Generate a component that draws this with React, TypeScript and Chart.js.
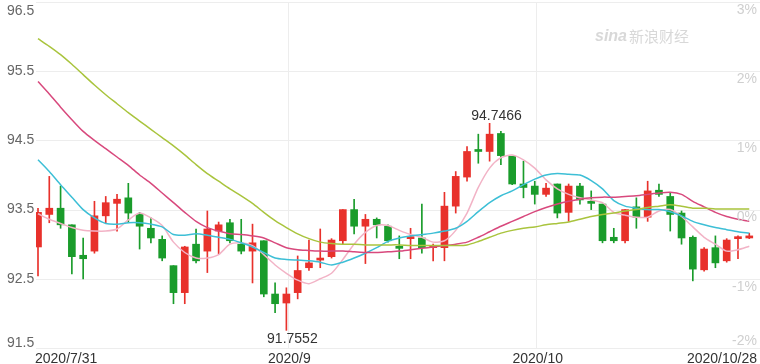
import React, { useEffect, useRef } from 'react';
import { Chart, registerables } from 'chart.js';

Chart.register(...registerables);

// Trading days 2020/7/31 .. 2020/10/28
const dates = [
  '2020/7/31',
  '2020/8/3', '2020/8/4', '2020/8/5', '2020/8/6', '2020/8/7', '2020/8/10', '2020/8/11', '2020/8/12', '2020/8/13', '2020/8/14',
  '2020/8/17', '2020/8/18', '2020/8/19', '2020/8/20', '2020/8/21', '2020/8/24', '2020/8/25', '2020/8/26', '2020/8/27', '2020/8/28', '2020/8/31',
  '2020/9/1', '2020/9/2', '2020/9/3', '2020/9/4', '2020/9/7', '2020/9/8', '2020/9/9', '2020/9/10', '2020/9/11', '2020/9/14', '2020/9/15',
  '2020/9/16', '2020/9/17', '2020/9/18', '2020/9/21', '2020/9/22', '2020/9/23', '2020/9/24', '2020/9/25', '2020/9/28', '2020/9/29', '2020/9/30',
  '2020/10/1', '2020/10/2', '2020/10/5', '2020/10/6', '2020/10/7', '2020/10/8', '2020/10/9', '2020/10/12', '2020/10/13', '2020/10/14',
  '2020/10/15', '2020/10/16', '2020/10/19', '2020/10/20', '2020/10/21', '2020/10/22', '2020/10/23', '2020/10/26', '2020/10/27', '2020/10/28',
];

const opens = [
  92.96, 93.43, 93.52, 93.28, 92.84, 92.90, 93.41, 93.59, 93.67, 93.43,
  93.23, 93.07, 92.69, 92.30, 93.00, 92.90, 93.19, 93.31, 93.00, 92.90,
  93.05, 92.28, 92.15, 92.30, 92.66, 92.77, 92.82, 93.05, 93.50, 93.26,
  93.36, 93.26, 92.96, 93.08, 93.09, 92.95, 92.95, 93.55, 93.97, 94.36,
  94.34, 94.60, 94.27, 93.87, 93.84, 93.72, 93.87, 93.46, 93.84, 93.62,
  93.58, 93.10, 93.05, 93.54, 93.39, 93.78, 93.69, 93.45, 93.10, 92.63,
  92.95, 92.76, 93.08, 93.09,
];
const highs = [
  93.52, 93.98, 93.84, 93.28, 93.09, 93.62, 93.69, 93.72, 93.88, 93.46,
  93.38, 93.12, 92.69, 92.97, 93.22, 93.48, 93.32, 93.36, 93.36, 93.29,
  93.05, 92.44, 92.37, 92.83, 93.06, 93.22, 93.08, 93.50, 93.65, 93.43,
  93.38, 93.28, 93.12, 93.23, 93.58, 93.00, 93.75, 94.05, 94.41, 94.59,
  94.7466, 94.63, 94.27, 94.20, 93.91, 93.88, 93.87, 93.87, 93.88, 93.77,
  93.58, 93.23, 93.50, 93.67, 93.91, 93.87, 93.74, 93.48, 93.12, 92.95,
  93.12, 93.08, 93.12, 93.16,
];
const lows = [
  92.54, 93.31, 93.23, 92.57, 92.50, 92.87, 93.31, 93.19, 93.31, 92.93,
  93.02, 92.76, 92.14, 92.14, 92.73, 92.59, 92.86, 93.02, 92.86, 92.44,
  92.24, 92.01, 91.7552, 92.21, 92.62, 92.66, 92.80, 93.00, 93.15, 92.72,
  93.09, 93.03, 92.79, 92.79, 92.87, 92.76, 92.76, 93.45, 93.91, 94.17,
  94.20, 94.15, 93.86, 93.67, 93.58, 93.69, 93.38, 93.33, 93.58, 93.50,
  93.02, 93.02, 93.02, 93.23, 93.33, 93.69, 93.19, 93.00, 92.47, 92.61,
  92.66, 92.74, 92.79, 93.08,
];
const closes = [
  93.46, 93.52, 93.28, 92.82, 92.79, 93.41, 93.60, 93.65, 93.45, 93.26,
  93.09, 92.80, 92.30, 92.96, 92.76, 93.22, 93.28, 93.05, 92.90, 93.02,
  92.28, 92.14, 92.28, 92.62, 92.73, 92.80, 93.06, 93.50, 93.26, 93.36,
  93.28, 93.05, 92.94, 93.10, 92.95, 92.97, 93.55, 93.98, 94.34, 94.34,
  94.59, 94.28, 93.87, 93.82, 93.72, 93.81, 93.45, 93.84, 93.64, 93.59,
  93.05, 93.05, 93.50, 93.39, 93.77, 93.72, 93.43, 93.09, 92.64, 92.93,
  92.73, 93.06, 93.10, 93.12,
];

const ma5 = [
  93.44, 93.36, 93.30, 93.24, 93.20, 93.19, 93.19, 93.22, 93.35, 93.45,
  93.38, 93.27, 93.03, 92.88, 92.80, 92.80, 92.85, 93.00, 93.02, 92.98,
  92.85, 92.70, 92.58, 92.48, 92.43, 92.50, 92.58, 92.78, 93.00, 93.17,
  93.27, 93.27, 93.20, 93.14, 93.10, 93.03, 93.05, 93.20, 93.45, 93.82,
  94.10, 94.25, 94.29, 94.22, 94.10, 93.93, 93.80, 93.72, 93.67, 93.64,
  93.60, 93.46, 93.42, 93.39, 93.39, 93.48, 93.50, 93.40, 93.25, 93.10,
  93.00, 92.90, 92.92, 92.97,
];
const ma10 = [
  94.22, 94.05, 93.86, 93.68, 93.50, 93.38, 93.30, 93.29, 93.31, 93.31,
  93.29, 93.25, 93.14, 93.13, 93.15, 93.13, 93.10, 93.07, 93.02, 92.96,
  92.88, 92.80, 92.78, 92.77, 92.76, 92.74, 92.70, 92.74, 92.80, 92.87,
  92.95, 93.04, 93.09, 93.12, 93.14, 93.16, 93.19, 93.23, 93.33, 93.47,
  93.60, 93.70, 93.77, 93.86, 93.94, 94.00, 94.02, 94.01, 94.00, 93.92,
  93.80, 93.63, 93.55, 93.52, 93.50, 93.50, 93.47, 93.41, 93.33, 93.28,
  93.24, 93.21, 93.18, 93.16,
];
const ma20 = [
  95.35, 95.17, 94.98, 94.80, 94.63, 94.50, 94.38, 94.26, 94.14, 94.00,
  93.88, 93.74, 93.60, 93.46, 93.33, 93.24, 93.19, 93.15, 93.14, 93.12,
  93.09, 93.02, 92.95, 92.92, 92.91, 92.90, 92.90, 92.90, 92.89, 92.88,
  92.88, 92.89, 92.90, 92.92, 92.94, 92.96, 92.98, 93.00, 93.03, 93.10,
  93.18, 93.26, 93.33, 93.40, 93.47, 93.53, 93.58, 93.62, 93.65, 93.67,
  93.68, 93.68, 93.69, 93.70, 93.72, 93.74, 93.75, 93.72, 93.62, 93.54,
  93.46, 93.40, 93.36, 93.33,
];
const ma30 = [
  95.97, 95.86, 95.74, 95.60, 95.45, 95.30, 95.16, 95.03, 94.90, 94.78,
  94.66, 94.54, 94.42, 94.29, 94.15, 94.02, 93.91, 93.80, 93.70, 93.59,
  93.46, 93.34, 93.24, 93.15, 93.08, 93.03, 93.01, 93.00, 93.00, 92.99,
  92.99, 92.99, 92.99, 92.98, 92.98, 92.98, 92.98, 92.98, 92.99, 93.04,
  93.10, 93.16, 93.20, 93.23, 93.25, 93.28, 93.30, 93.32, 93.36, 93.40,
  93.43, 93.45, 93.48, 93.50, 93.53, 93.55, 93.57, 93.55, 93.52, 93.52,
  93.51, 93.51, 93.51, 93.51,
];

const yTicks = [96.5, 95.5, 94.5, 93.5, 92.5, 91.5];
const yTickLabels = ['96.5', '95.5', '94.5', '93.5', '92.5', '91.5'];
const pctTickLabels = ['3%', '2%', '1%', '0%', '-1%', '-2%'];
const xTickIndex = [0, 22, 44, 63];
const xTickLabels = ['2020/7/31', '2020/9', '2020/10', '2020/10/28'];
const highLabel = '94.7466';
const lowLabel = '91.7552';

const RED = '#e8312b';
const GREEN = '#1a9c2b';
const FONT = '"Liberation Sans", Arial, sans-serif';

export default function App() {
  const ref = useRef<HTMLCanvasElement>(null);

  useEffect(() => {
    const idx = opens.map((_, i) => i);
    const colors = idx.map((i) => (closes[i] >= opens[i] ? RED : GREEN));
    const hiIdx = highs.indexOf(Math.max(...highs));
    const loIdx = lows.indexOf(Math.min(...lows));

    const gridPlugin = {
      id: 'grid',
      beforeDatasetsDraw(chart: any) {
        const { ctx, chartArea, scales } = chart;
        const x = scales.x, y = scales.y;
        ctx.save();
        ctx.strokeStyle = '#ededed';
        ctx.lineWidth = 1;
        yTicks.forEach((v) => {
          const py = Math.round(y.getPixelForValue(v)) + 0.5;
          ctx.beginPath();
          ctx.moveTo(chartArea.left, py);
          ctx.lineTo(chartArea.right, py);
          ctx.stroke();
        });
        [xTickIndex[1], xTickIndex[2]].forEach((i) => {
          const px = Math.round(x.getPixelForValue(i) + 1.5) + 0.5;
          ctx.beginPath();
          ctx.moveTo(px, chartArea.top);
          ctx.lineTo(px, chartArea.bottom);
          ctx.stroke();
        });
        // watermark
        ctx.fillStyle = '#d8d8d8';
        ctx.textBaseline = 'alphabetic';
        ctx.textAlign = 'left';
        ctx.font = 'italic bold 16px ' + FONT;
        ctx.fillText('sina', 595, 41);
        ctx.font = '15px "Noto Sans CJK SC", sans-serif';
        ctx.fillText('新浪财经', 629, 42);
        ctx.restore();
      },
      afterDatasetsDraw(chart: any) {
        const { ctx, chartArea, scales } = chart;
        const x = scales.x, y = scales.y;
        ctx.save();
        ctx.font = '14px ' + FONT;
        // left value labels
        ctx.fillStyle = '#666';
        ctx.textAlign = 'left';
        yTicks.forEach((v, k) => {
          const py = y.getPixelForValue(v);
          if (k === 0) {
            ctx.textBaseline = 'top';
            ctx.fillText(yTickLabels[k], 7, py + 2);
          } else if (k === yTicks.length - 1) {
            ctx.textBaseline = 'alphabetic';
            ctx.fillText(yTickLabels[k], 7, py - 1);
          } else {
            ctx.textBaseline = 'middle';
            ctx.fillText(yTickLabels[k], 7, py);
          }
        });
        // right percent labels
        ctx.fillStyle = '#cfcfcf';
        ctx.textAlign = 'right';
        yTicks.forEach((v, k) => {
          const py = y.getPixelForValue(v);
          if (k === yTicks.length - 1) {
            ctx.textBaseline = 'alphabetic';
            ctx.fillText(pctTickLabels[k], 757, py - 3);
          } else {
            ctx.textBaseline = 'top';
            ctx.fillText(pctTickLabels[k], 757, py + 1);
          }
        });
        // date labels
        ctx.fillStyle = '#333';
        ctx.textBaseline = 'alphabetic';
        xTickIndex.forEach((i, k) => {
          const px = x.getPixelForValue(i);
          if (k === 0) {
            ctx.textAlign = 'left';
            ctx.fillText(xTickLabels[k], px - 3, 363);
          } else if (k === xTickIndex.length - 1) {
            ctx.textAlign = 'right';
            ctx.fillText(xTickLabels[k], chartArea.right - 3, 363);
          } else {
            ctx.textAlign = 'center';
            ctx.fillText(xTickLabels[k], px + 3, 363);
          }
        });
        // high / low annotations
        ctx.fillStyle = '#333';
        ctx.textAlign = 'center';
        ctx.textBaseline = 'alphabetic';
        ctx.fillText(highLabel, x.getPixelForValue(hiIdx) + 7, y.getPixelForValue(highs[hiIdx]) - 3);
        ctx.textBaseline = 'top';
        ctx.fillText(lowLabel, x.getPixelForValue(loIdx) + 6, y.getPixelForValue(lows[loIdx]) + 2);
        ctx.restore();
      },
    };

    const lineDs = (data: number[], color: string) => ({
      type: 'line' as const,
      data: idx.map((i) => ({ x: i, y: data[i] })),
      borderColor: color,
      backgroundColor: color,
      borderWidth: 1.5,
      pointRadius: 0,
      tension: 0.25,
      fill: false,
      order: 0,
    });

    const chart = new Chart(ref.current as HTMLCanvasElement, {
      type: 'bar',
      data: {
        labels: dates,
        datasets: [
          lineDs(ma30, '#a9c43d'),
          lineDs(ma20, '#d8497d'),
          lineDs(ma10, '#3dbfd6'),
          lineDs(ma5, '#f2b3c6'),
          {
            type: 'bar',
            data: idx.map((i) => ({ x: i, y: [opens[i], closes[i]] })),
            backgroundColor: colors,
            barThickness: 7,
            grouped: false,
            minBarLength: 2,
            borderWidth: 0,
            order: 1,
          } as any,
          {
            type: 'bar',
            data: idx.map((i) => ({ x: i, y: [lows[i], highs[i]] })),
            backgroundColor: colors,
            barThickness: 1,
            grouped: false,
            borderWidth: 0,
            order: 2,
          } as any,
        ],
      },
      options: {
        responsive: false,
        animation: false,
        devicePixelRatio: 1,
        layout: { padding: { left: 36, right: 0, top: 2, bottom: 16 } },
        plugins: { legend: { display: false }, tooltip: { enabled: false } },
        scales: {
          x: { type: 'linear', min: -0.177, max: 63.95, offset: false, display: false },
          y: { type: 'linear', min: 91.5, max: 96.5, beginAtZero: false, display: false },
        },
      } as any,
      plugins: [gridPlugin],
    });
    return () => chart.destroy();
  }, []);

  return (
    <div style={{ position: 'absolute', left: 0, top: 0, width: 760, height: 364, background: '#fff' }}>
      <canvas ref={ref} width={760} height={364} style={{ display: 'block' }} />
    </div>
  );
}
